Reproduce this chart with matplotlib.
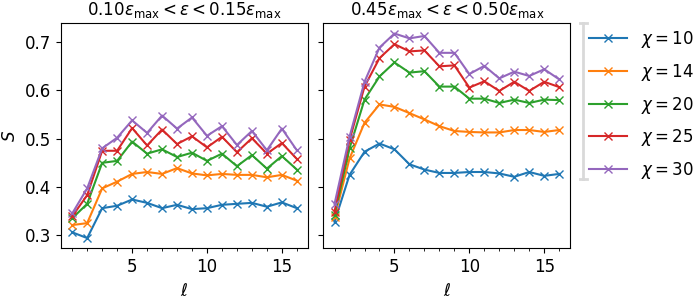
import matplotlib
matplotlib.use('Agg')
import matplotlib.pyplot as plt
from matplotlib.lines import Line2D

# --- data ---
ell = list(range(1, 17))
chis = [10, 14, 20, 25, 30]

# 0.10 eps_max < eps < 0.15 eps_max
S_low = {
    10: [0.306, 0.294, 0.356, 0.361, 0.374, 0.367, 0.356, 0.363, 0.354, 0.356, 0.363, 0.365, 0.367, 0.359, 0.368, 0.356],
    14: [0.321, 0.325, 0.397, 0.411, 0.427, 0.431, 0.427, 0.439, 0.428, 0.424, 0.427, 0.425, 0.425, 0.420, 0.425, 0.413],
    20: [0.335, 0.365, 0.450, 0.454, 0.494, 0.469, 0.478, 0.462, 0.471, 0.454, 0.469, 0.443, 0.466, 0.438, 0.464, 0.436],
    25: [0.339, 0.383, 0.475, 0.475, 0.522, 0.486, 0.519, 0.489, 0.505, 0.482, 0.504, 0.472, 0.501, 0.469, 0.491, 0.458],
    30: [0.345, 0.397, 0.480, 0.502, 0.538, 0.512, 0.548, 0.521, 0.544, 0.506, 0.526, 0.487, 0.516, 0.476, 0.521, 0.476],
}

# 0.45 eps_max < eps < 0.50 eps_max
S_high = {
    10: [0.328, 0.425, 0.473, 0.490, 0.478, 0.447, 0.436, 0.429, 0.429, 0.431, 0.431, 0.428, 0.421, 0.431, 0.423, 0.427],
    14: [0.337, 0.459, 0.533, 0.571, 0.566, 0.553, 0.540, 0.526, 0.516, 0.514, 0.513, 0.513, 0.518, 0.518, 0.514, 0.518],
    20: [0.342, 0.480, 0.581, 0.629, 0.658, 0.637, 0.640, 0.608, 0.608, 0.583, 0.583, 0.574, 0.581, 0.574, 0.581, 0.580],
    25: [0.349, 0.497, 0.608, 0.667, 0.696, 0.681, 0.683, 0.650, 0.652, 0.606, 0.619, 0.599, 0.618, 0.599, 0.618, 0.607],
    30: [0.365, 0.504, 0.618, 0.689, 0.718, 0.708, 0.713, 0.678, 0.678, 0.634, 0.651, 0.625, 0.639, 0.630, 0.644, 0.623],
}

titles = [r'$0.10\varepsilon_{\mathrm{max}} < \varepsilon < 0.15\varepsilon_{\mathrm{max}}$',
          r'$0.45\varepsilon_{\mathrm{max}} < \varepsilon < 0.50\varepsilon_{\mathrm{max}}$']

plt.rcParams['font.size'] = 12

fig = plt.figure(figsize=(7, 3), dpi=100)
ax1 = fig.add_axes([0.0871, 0.1723, 0.353, 0.75])
ax2 = fig.add_axes([0.4619, 0.1723, 0.353, 0.75], sharey=ax1)

for ax, data, title in zip([ax1, ax2], [S_low, S_high], titles):
    for chi in chis:
        ax.plot(ell, data[chi], marker='x', lw=1.5, label=r'$\chi = %d$' % chi)
    ax.set_title(title, fontsize=12)
    ax.set_xlabel(r'$\ell$')
    ax.set_xticks([5, 10, 15])
    ax.set_xticks(ell, minor=True)
    ax.tick_params(axis='x', which='minor', labelbottom=False)

ax1.set_ylabel(r'$S$')
ax1.set_yticks([0.3, 0.4, 0.5, 0.6, 0.7])
ax2.tick_params(labelleft=False)

handles, labels = ax2.get_legend_handles_labels()
fig.legend(handles, labels, loc='center left', bbox_to_anchor=(0.832, 0.65),
           frameon=False, borderaxespad=0, handlelength=2.3, labelspacing=0.7)

# light grey bracket left of the legend
fig.add_artist(Line2D([0.833, 0.833], [1 - 23/300, 1 - 179/300], transform=fig.transFigure,
                      color='#d9d9d9', lw=2))
for yy in [1 - 23/300, 1 - 179/300]:
    fig.add_artist(Line2D([0.828, 0.838], [yy, yy], transform=fig.transFigure,
                          color='#d9d9d9', lw=2))

fig.savefig('out.png', dpi=100)
